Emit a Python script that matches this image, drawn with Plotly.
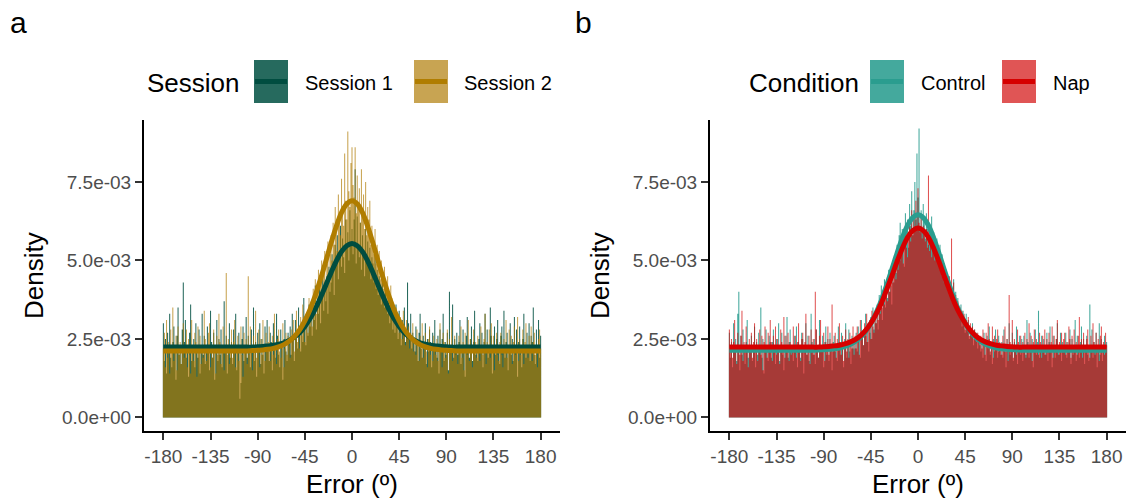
import plotly.graph_objects as go

# ---------------- data ----------------
BIN_CENTERS = list(range(-180, 181))          # 1-degree bins
X_TICKS = [-180, -135, -90, -45, 0, 45, 90, 135, 180]
Y_TICKS = [0, 0.0025, 0.005, 0.0075]
Y_TICK_TEXT = ["0.0e+00", "2.5e-03", "5.0e-03", "7.5e-03"]

# histogram densities, in units of 1e-4
S1_HIST = [
    30, 18, 25, 14, 27, 22, 33, 19, 16, 24, 29, 21, 12, 26, 35, 20, 23, 17, 28, 43,
    24, 31, 19, 22, 13, 27, 36, 18, 21, 25, 16, 30, 23, 19, 28, 14, 22, 33, 20, 26,
    17, 23, 29, 21, 15, 34, 24, 19, 27, 12, 22, 31, 18, 25, 20, 28, 16, 23, 37, 21,
    26, 14, 22, 30, 19, 24, 17, 28, 21, 33, 15, 23, 27, 6, 11, 25, 29, 18, 22, 32,
    19, 26, 21, 16, 28, 23, 35, 18, 24, 13, 27, 22, 30, 17, 25, 20, 14, 29, 23, 31,
    21, 18, 27, 24, 15, 30, 22, 19, 33, 26, 20, 16, 28, 23, 12, 25, 31, 21, 18, 27,
    24, 29, 20, 33, 26, 18, 31, 25, 22, 35, 27, 21, 30, 24, 38, 28, 23, 32, 26, 36,
    29, 35, 26, 38, 31, 42, 28, 36, 33, 44, 30, 39, 47, 34, 41, 37, 45, 33, 48, 40,
    43, 52, 47, 39, 55, 49, 58, 44, 53, 61, 48, 57, 51, 46, 63, 54, 59, 50, 66, 56,
    60, 52, 63, 79, 49, 64, 55, 51, 62, 47, 58, 53, 45, 60, 50, 56, 48, 54, 44, 51,
    49, 43, 52, 41, 47, 39, 45, 42, 36, 44, 40, 35, 42, 37, 33, 39, 30, 36, 34, 28,
    33, 27, 36, 30, 25, 34, 29, 23, 31, 27, 35, 24, 28, 43, 30, 26, 33, 22, 27, 25,
    21, 29, 24, 18, 27, 33, 22, 19, 26, 23, 30, 17, 25, 21, 28, 24, 16, 27, 22, 31,
    23, 19, 26, 14, 28, 22, 25, 33, 18, 24, 20, 27, 15, 40, 23, 21, 36, 19, 25, 22,
    27, 20, 24, 31, 17, 23, 28, 21, 13, 26, 32, 22, 19, 25, 29, 18, 24, 34, 20, 23,
    18, 25, 30, 22, 27, 16, 24, 33, 21, 28, 19, 23, 35, 26, 14, 22, 29, 20, 25, 31,
    22, 17, 26, 29, 21, 34, 19, 24, 27, 15, 23, 30, 20, 25, 18, 32, 22, 28, 13, 24,
    29, 21, 16, 25, 33, 23, 19, 27, 22, 30, 18, 26, 24, 35, 20, 17, 28, 23, 31, 19,
    26,
]
S2_HIST = [
    22, 27, 16, 31, 19, 24, 14, 28, 21, 35, 18, 23, 26, 15, 29, 20, 24, 17, 22, 30,
    19, 23, 28, 16, 25, 20, 14, 31, 22, 18, 27, 24, 13, 29, 21, 26, 17, 23, 19, 34,
    25, 18, 21, 27, 30, 16, 23, 19, 28, 22, 14, 26, 20, 33, 24, 17, 21, 29, 15, 23,
    46, 20, 25, 17, 22, 28, 19, 24, 31, 16, 21, 26, 18, 23, 29, 20, 13, 27, 22, 25,
    17, 45, 20, 29, 23, 15, 26, 21, 34, 19, 22, 28, 16, 25, 20, 31, 23, 18, 27, 21,
    24, 29, 18, 22, 26, 20, 33, 23, 17, 25, 28, 21, 19, 24, 30, 16, 22, 27, 20, 26,
    23, 19, 28, 25, 31, 21, 27, 34, 24, 29, 22, 32, 26, 36, 28, 24, 33, 30, 27, 38,
    31, 37, 29, 41, 35, 44, 33, 39, 47, 36, 43, 50, 40, 46, 53, 42, 49, 56, 45, 52,
    58, 50, 62, 55, 67, 60, 53, 71, 64, 58, 76, 66, 61, 84, 69, 63, 91, 72, 67, 81,
    86, 74, 70, 86, 65, 77, 68, 73, 62, 79, 66, 71, 60, 75, 58, 67, 63, 69, 55, 61,
    57, 52, 60, 49, 55, 47, 53, 44, 50, 46, 41, 48, 43, 39, 45, 40, 36, 42, 38, 34,
    36, 31, 35, 29, 33, 27, 32, 30, 25, 34, 28, 23, 31, 26, 29, 22, 27, 24, 30, 21,
    25, 20, 28, 23, 18, 26, 22, 30, 19, 24, 27, 21, 16, 25, 29, 20, 23, 18, 26, 22,
    20, 25, 18, 23, 30, 21, 16, 27, 24, 19, 22, 28, 14, 25, 21, 32, 18, 23, 26, 20,
    23, 17, 26, 21, 29, 19, 24, 15, 27, 22, 20, 31, 18, 25, 23, 16, 28, 21, 24, 19,
    26, 21, 18, 29, 23, 20, 25, 33, 17, 24, 22, 28, 19, 30, 21, 26, 15, 23, 27, 20,
    18, 24, 27, 20, 16, 25, 22, 31, 19, 23, 28, 21, 26, 17, 24, 29, 20, 22, 32, 18,
    25, 20, 23, 28, 17, 24, 30, 21, 19, 26, 22, 29, 18, 24, 27, 20, 23, 16, 25, 28,
    22,
]
CTRL_HIST = [
    27, 19, 24, 16, 30, 21, 25, 18, 33, 40, 15, 26, 20, 28, 23, 17, 24, 31, 19, 22,
    21, 26, 18, 23, 29, 16, 24, 20, 27, 22, 35, 19, 25, 14, 23, 28, 21, 18, 26, 24,
    19, 24, 28, 22, 17, 25, 21, 30, 18, 23, 27, 20, 15, 26, 22, 32, 19, 24, 28, 21,
    23, 18, 26, 21, 29, 16, 24, 22, 19, 27, 25, 14, 23, 30, 20, 26, 18, 22, 33, 24,
    20, 25, 17, 28, 22, 19, 31, 23, 21, 26, 16, 24, 29, 20, 25, 18, 27, 22, 15, 24,
    26, 21, 23, 18, 29, 24, 20, 27, 22, 16, 25, 30, 19, 23, 28, 21, 17, 26, 22, 24,
    22, 27, 21, 29, 25, 19, 31, 26, 23, 28, 33, 24, 30, 21, 27, 32, 25, 35, 28, 31,
    30, 36, 28, 39, 34, 42, 31, 37, 44, 35, 41, 38, 47, 40, 45, 36, 50, 43, 48, 46,
    55, 49, 58, 62, 53, 60, 56, 48, 65, 59, 63, 54, 68, 61, 72, 58, 66, 75, 63, 84,
    70, 92, 61, 66, 59, 68, 63, 57, 65, 60, 55, 62, 58, 64, 53, 59, 56, 51, 57, 54,
    50, 55, 47, 52, 45, 49, 43, 47, 41, 45, 39, 43, 37, 41, 44, 36, 40, 34, 38, 35,
    32, 36, 29, 34, 30, 27, 33, 28, 31, 25, 29, 26, 30, 23, 28, 25, 27, 22, 26, 24,
    21, 25, 19, 27, 23, 18, 26, 22, 29, 20, 24, 17, 25, 21, 28, 23, 19, 26, 22, 20,
    24, 19, 28, 21, 16, 25, 23, 30, 20, 22, 27, 18, 24, 21, 29, 17, 23, 26, 20, 25,
    18, 26, 22, 20, 31, 24, 19, 27, 21, 25, 16, 23, 28, 20, 24, 34, 19, 22, 26, 21,
    25, 20, 23, 27, 18, 24, 29, 21, 16, 26, 22, 19, 25, 30, 23, 20, 27, 18, 24, 22,
    21, 27, 19, 24, 22, 28, 17, 25, 20, 23, 31, 18, 26, 22, 19, 24, 29, 21, 25, 17,
    23, 26, 20, 18, 36, 22, 28, 19, 24, 21, 27, 16, 23, 30, 20, 25, 18, 22, 26, 21,
    24,
]
NAP_HIST = [
    28, 21, 25, 19, 24, 31, 22, 17, 27, 23, 20, 26, 34, 18, 24, 21, 29, 23, 16, 25,
    22, 27, 19, 24, 30, 21, 25, 18, 23, 28, 20, 26, 15, 24, 29, 22, 19, 27, 23, 31,
    24, 18, 26, 22, 29, 20, 25, 23, 17, 28, 24, 21, 32, 19, 26, 22, 27, 18, 24, 20,
    21, 29, 23, 26, 19, 24, 30, 22, 18, 25, 27, 21, 24, 33, 20, 23, 26, 17, 28, 22,
    25, 20, 40, 28, 22, 19, 26, 31, 23, 21, 27, 18, 24, 22, 29, 20, 25, 23, 36, 21,
    23, 27, 19, 25, 22, 30, 24, 20, 26, 18, 23, 28, 21, 25, 19, 27, 24, 22, 29, 20,
    26, 22, 29, 24, 20, 31, 25, 27, 23, 30, 26, 33, 24, 28, 31, 25, 34, 29, 27, 32,
    30, 35, 31, 37, 33, 39, 35, 41, 36, 38, 43, 37, 45, 40, 42, 48, 43, 46, 49, 44,
    52, 47, 55, 50, 58, 53, 49, 57, 60, 54, 51, 59, 62, 56, 66, 58, 63, 60, 69, 61,
    73, 62, 59, 64, 57, 61, 58, 56, 60, 54, 77, 53, 56, 51, 54, 57, 50, 52, 55, 49,
    51, 47, 50, 45, 48, 43, 46, 42, 44, 40, 45, 38, 57, 37, 43, 36, 39, 35, 37, 34,
    35, 31, 34, 30, 33, 28, 31, 29, 32, 26, 30, 27, 29, 25, 28, 26, 24, 27, 25, 23,
    26, 22, 28, 24, 20, 27, 23, 30, 25, 21, 24, 29, 19, 26, 22, 25, 28, 21, 24, 23,
    20, 26, 23, 29, 21, 25, 18, 39, 24, 22, 31, 19, 25, 23, 20, 28, 24, 21, 26, 22,
    24, 21, 27, 19, 25, 23, 30, 22, 26, 18, 24, 28, 21, 25, 23, 20, 27, 24, 19, 26,
    22, 28, 20, 25, 23, 27, 21, 24, 29, 19, 26, 22, 25, 31, 20, 24, 22, 27, 23, 25,
    27, 20, 24, 22, 29, 25, 19, 26, 23, 28, 21, 24, 20, 26, 32, 22, 25, 19, 27, 23,
    21, 25, 28, 23, 19, 26, 22, 30, 24, 20, 27, 23, 25, 18, 26, 29, 22, 24, 20, 27,
    23,
]

# fitted mixture curves, sampled every 5 degrees, in units of 1e-3
CURVE_X = list(range(-180, 181, 5))
S1_CURVE = [
    2.24, 2.24, 2.24, 2.24, 2.24, 2.24, 2.24, 2.24, 2.24, 2.24, 2.24, 2.24, 2.24, 2.24, 2.24, 2.24, 2.24, 2.24,
    2.25, 2.26, 2.28, 2.30, 2.33, 2.38, 2.45, 2.56, 2.70, 2.90, 3.15, 3.46, 3.82, 4.21, 4.61, 4.98, 5.28, 5.47,
    5.54,
    5.47, 5.28, 4.98, 4.61, 4.21, 3.82, 3.46, 3.15, 2.90, 2.70, 2.56, 2.45, 2.38, 2.33, 2.30, 2.28, 2.26, 2.25,
    2.24, 2.24, 2.24, 2.24, 2.24, 2.24, 2.24, 2.24, 2.24, 2.24, 2.24, 2.24, 2.24, 2.24, 2.24, 2.24, 2.24, 2.24,
]
S2_CURVE = [
    2.12, 2.12, 2.12, 2.12, 2.12, 2.12, 2.12, 2.12, 2.12, 2.12, 2.12, 2.12, 2.12, 2.12, 2.12, 2.12, 2.12,
    2.13, 2.14, 2.15, 2.17, 2.20, 2.25, 2.32, 2.43, 2.58, 2.79, 3.08, 3.44, 3.89, 4.41, 4.97, 5.55, 6.08, 6.52, 6.80,
    6.90,
    6.80, 6.52, 6.08, 5.55, 4.97, 4.41, 3.89, 3.44, 3.08, 2.79, 2.58, 2.43, 2.32, 2.25, 2.20, 2.17, 2.15, 2.14, 2.13,
    2.12, 2.12, 2.12, 2.12, 2.12, 2.12, 2.12, 2.12, 2.12, 2.12, 2.12, 2.12, 2.12, 2.12, 2.12, 2.12, 2.12,
]
CTRL_CURVE = [
    2.14, 2.14, 2.14, 2.14, 2.14, 2.14, 2.14, 2.14, 2.14, 2.14, 2.14, 2.14, 2.14, 2.14, 2.14, 2.14, 2.14,
    2.15, 2.16, 2.17, 2.19, 2.21, 2.26, 2.32, 2.42, 2.55, 2.74, 3.00, 3.33, 3.73, 4.20, 4.71, 5.23, 5.71, 6.11, 6.36,
    6.45,
    6.36, 6.11, 5.71, 5.23, 4.71, 4.20, 3.73, 3.33, 3.00, 2.74, 2.55, 2.42, 2.32, 2.26, 2.21, 2.19, 2.17, 2.16, 2.15,
    2.14, 2.14, 2.14, 2.14, 2.14, 2.14, 2.14, 2.14, 2.14, 2.14, 2.14, 2.14, 2.14, 2.14, 2.14, 2.14, 2.14,
]
NAP_CURVE = [
    2.24, 2.24, 2.24, 2.24, 2.24, 2.24, 2.24, 2.24, 2.24, 2.24, 2.24, 2.24, 2.24, 2.24, 2.24, 2.24, 2.24, 2.24,
    2.25, 2.26, 2.28, 2.30, 2.34, 2.40, 2.48, 2.60, 2.77, 3.00, 3.29, 3.64, 4.06, 4.50, 4.96, 5.38, 5.73, 5.95,
    6.03,
    5.95, 5.73, 5.38, 4.96, 4.50, 4.06, 3.64, 3.29, 3.00, 2.77, 2.60, 2.48, 2.40, 2.34, 2.30, 2.28, 2.26, 2.25,
    2.24, 2.24, 2.24, 2.24, 2.24, 2.24, 2.24, 2.24, 2.24, 2.24, 2.24, 2.24, 2.24, 2.24, 2.24, 2.24, 2.24, 2.24,
]

# ---------------- styles ----------------
W, H = 1128, 501
FONT = "Liberation Sans, Arial, sans-serif"
S1_FILL, S1_LINE = "rgba(0,80,66,0.85)", "#004D40"
S2_FILL, S2_LINE = "rgba(174,121,0,0.68)", "#B07D00"
C_FILL, C_LINE = "rgba(42,157,143,0.88)", "#2A9D8F"
N_FILL, N_LINE = "rgba(210,9,9,0.69)", "#D60000"

fig = go.Figure()

def step(vals):
    xs = [c - 0.5 for c in BIN_CENTERS] + [BIN_CENTERS[-1] + 0.5]
    ys = [v * 1e-4 for v in vals] + [vals[-1] * 1e-4]
    return xs, ys

def add_hist(vals, fill, xa, ya):
    xs, ys = step(vals)
    fig.add_trace(go.Scatter(x=xs, y=ys, mode="lines", line=dict(width=0, shape="hv"),
                             fill="tozeroy", fillcolor=fill, xaxis=xa, yaxis=ya,
                             showlegend=False, hoverinfo="skip"))

def add_curve(vals, color, xa, ya):
    fig.add_trace(go.Scatter(x=CURVE_X, y=[v * 1e-3 for v in vals], mode="lines",
                             line=dict(color=color, width=5, shape="spline", smoothing=1),
                             xaxis=xa, yaxis=ya, showlegend=False, hoverinfo="skip"))

add_hist(S1_HIST, S1_FILL, "x", "y")
add_hist(S2_HIST, S2_FILL, "x", "y")
add_curve(S1_CURVE, S1_LINE, "x", "y")
add_curve(S2_CURVE, S2_LINE, "x", "y")

add_hist(CTRL_HIST, C_FILL, "x2", "y2")
add_hist(NAP_HIST, N_FILL, "x2", "y2")
add_curve(CTRL_CURVE, C_LINE, "x2", "y2")
add_curve(NAP_CURVE, N_LINE, "x2", "y2")

def px(x):
    return x / W

def py(y):
    return 1 - y / H

Y_DOM = [py(431), py(120)]
XA_DOM = [px(144), px(560)]
XB_DOM = [px(710), px(1126)]

axis_common = dict(showline=True, linecolor="black", linewidth=2, ticks="outside",
                   ticklen=7, tickwidth=2, tickcolor="#333333",
                   tickfont=dict(family=FONT, size=19, color="#4D4D4D"),
                   showgrid=False, zeroline=False, mirror=False)
xaxis_common = dict(axis_common, range=[-198.5, 198.5], tickvals=X_TICKS,
                    ticktext=[str(t) for t in X_TICKS])
yaxis_common = dict(axis_common, range=[-0.00043, 0.00947], tickvals=Y_TICKS,
                    ticktext=Y_TICK_TEXT)

fig.update_layout(
    width=W, height=H, margin=dict(l=0, r=0, t=0, b=0),
    paper_bgcolor="white", plot_bgcolor="white", showlegend=False,
    font=dict(family=FONT, color="black"),
    xaxis=dict(xaxis_common, domain=XA_DOM, anchor="y"),
    yaxis=dict(yaxis_common, domain=Y_DOM, anchor="x"),
    xaxis2=dict(xaxis_common, domain=XB_DOM, anchor="y2"),
    yaxis2=dict(yaxis_common, domain=Y_DOM, anchor="x2"),
)

annotations = []
shapes = []

def text(t, x, y, size, xanchor="left", angle=0, color="black", yanchor="middle"):
    annotations.append(dict(text=t, x=px(x), y=py(y), xref="paper", yref="paper",
                            xanchor=xanchor, yanchor=yanchor, showarrow=False,
                            textangle=angle, font=dict(family=FONT, size=size, color=color)))

# panel letters
text("a", 8, 22, 30)
text("b", 573, 22, 30)

# axis titles
text("Density", 34, 276, 26, xanchor="center", angle=-90)
text("Density", 600, 276, 26, xanchor="center", angle=-90)
text("Error (º)", 352, 501, 26, xanchor="center", yanchor="bottom")
text("Error (º)", 918, 501, 26, xanchor="center", yanchor="bottom")

# legends (drawn manually to reproduce combined fill + line keys)
def key(x0, fill, line):
    shapes.append(dict(type="rect", xref="paper", yref="paper", x0=px(x0), x1=px(x0 + 34),
                       y0=py(103), y1=py(60), fillcolor=fill, line=dict(width=0)))
    shapes.append(dict(type="line", xref="paper", yref="paper", x0=px(x0 + 1), x1=px(x0 + 33),
                       y0=py(81.5), y1=py(81.5), line=dict(color=line, width=5)))

text("Session", 145, 83, 26)
key(254, S1_FILL, S1_LINE)
text("Session 1", 303, 83, 20)
key(414, S2_FILL, S2_LINE)
text("Session 2", 462, 83, 20)

text("Condition", 747, 83, 26)
key(870, C_FILL, C_LINE)
text("Control", 919, 83, 20)
key(1002, N_FILL, N_LINE)
text("Nap", 1051, 83, 20)

fig.update_layout(annotations=annotations, shapes=shapes)

fig.write_html("out.html")
